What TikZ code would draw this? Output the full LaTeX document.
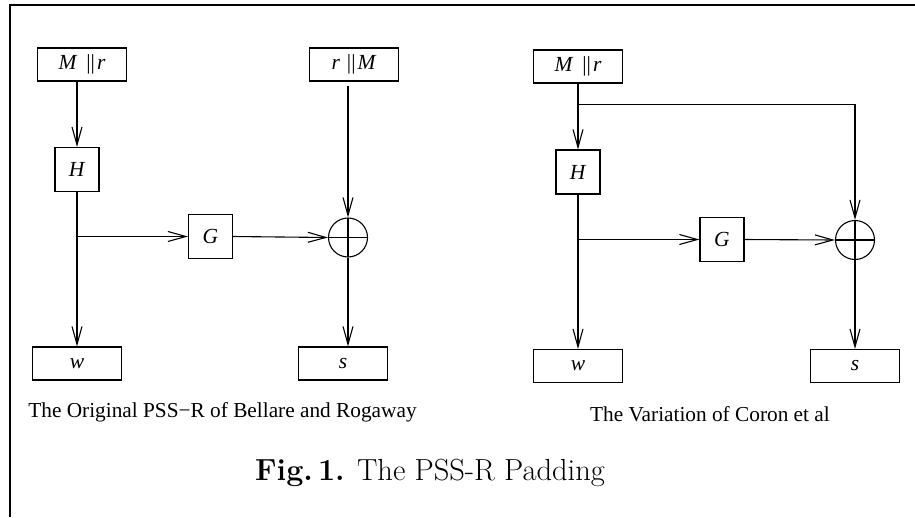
\documentclass[tikz,border=0pt]{standalone}
\usepackage{fontspec}
\newfontfamily\diagfont{Liberation Serif}
\usetikzlibrary{arrows.meta,positioning}

\begin{document}
\begin{tikzpicture}[
    x=1pt, y=-1pt,
    font=\diagfont\fontsize{21.5}{26}\selectfont,
    block/.style={rectangle, draw, line width=1.1pt, minimum width=89pt, minimum height=33pt, inner sep=0pt},
    hash/.style={block, minimum width=44pt, minimum height=44pt},
    xor/.style={circle, draw, line width=1.1pt, minimum size=39pt, inner sep=0pt,
        path picture={\draw[line width=1.1pt]
            (path picture bounding box.north) -- (path picture bounding box.south)
            (path picture bounding box.west) -- (path picture bounding box.east);}},
    arrow/.style={-{Straight Barb[length=18pt,width=10pt]}, line width=1.1pt},
    caption/.style={font=\diagfont\fontsize{21.3}{25}\selectfont}
]
    \useasboundingbox (0,0) rectangle (915,517);
    \draw[line width=2.5pt] (10,517) -- (10,5) -- (915,5);

    % Nodes (original)
    \node[block] (mr1) at (82,64.5) {\textit{M}\hspace{9pt}||\hspace{2pt}\textit{r}};
    \node[block] (rm1) at (354,64.5) {\textit{r}\hspace{7pt}||\hspace{2pt}\textit{M}};
    \node[hash] (h1) at (77,169.5) {\textit{H}};
    \node[hash] (g1) at (210.5,236.5) {\textit{G}};
    \node[xor] (x1) at (348,237.5) {};
    \node[block] (w1) at (77,363.5) {\textit{w}};
    \node[block] (s1) at (343,363.5) {\textit{s}};
    \node[caption] (cap1) at (222.5,412) {The Original PSS−R of Bellare and Rogaway};

    % Nodes (variation)
    \node[block] (mr2) at (578,66.5) {\textit{M}\hspace{9pt}||\hspace{2pt}\textit{r}};
    \node[hash] (h2) at (578,172) {\textit{H}};
    \node[hash] (g2) at (722,239.5) {\textit{G}};
    \node[xor] (x2) at (855,240) {};
    \node[block] (w2) at (578,366) {\textit{w}};
    \node[block] (s2) at (855,366) {\textit{s}};
    \node[caption] (cap2) at (710,414) {The Variation of Coron et al};

    \node[font=\rmfamily\fontsize{30.5}{35}\selectfont] (fig) at (430,473)
        {\textbf{Fig.\,1.} The PSS-R Padding};

    % Arrows (original)
    \coordinate (br1) at (h1 |- g1);
    \draw[arrow] (h1 |- mr1.south) -- (h1.north);
    \draw[arrow] (h1.south) -- (w1.north);
    \draw[arrow] (br1) -- (g1.west);
    \draw[arrow] (g1.east) -- (x1.west);
    \draw[arrow, shorten <=4pt] (x1 |- rm1.south) -- (x1.north);
    \draw[arrow] (x1.south) -- (x1 |- s1.north);

    % Arrows (variation)
    \coordinate (tap2) at ([yshift=-21pt]h2 |- mr2.south);
    \coordinate (br2) at (h2 |- g2);
    \draw[arrow] (mr2.south) -- (h2.north);
    \draw[arrow] (tap2) -| (x2.north);
    \draw[arrow] (h2.south) -- (w2.north);
    \draw[arrow] (br2) -- (g2.west);
    \draw[arrow] (g2.east) -- (x2.west);
    \draw[arrow] (x2.south) -- (s2.north);
\end{tikzpicture}
\end{document}
